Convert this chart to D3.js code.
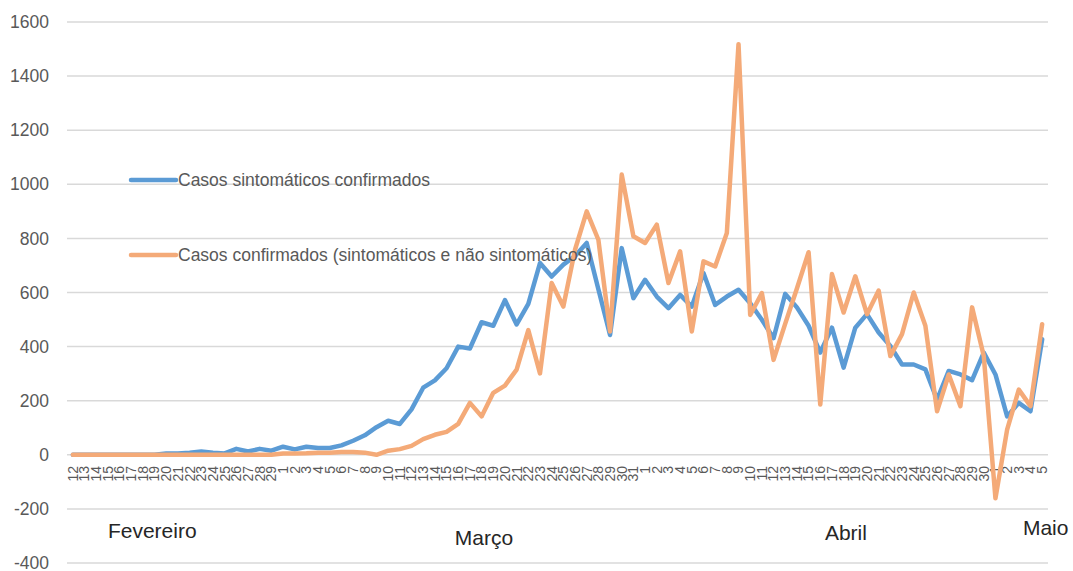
<!DOCTYPE html>
<html lang="pt">
<head>
  <meta charset="UTF-8">
  <title>Casos confirmados</title>
  <script src="https://d3js.org/d3.v7.min.js"></script>
  <style>
    body {
      margin: 0;
      background: white;
      font-family: "Liberation Sans", Arial, sans-serif;
    }
    .grid line {
      stroke: #d9d9d9;
      stroke-width: 1.5;
    }
    .ylab, .day, .legend-text {
      fill: #595959;
    }
    .month {
      fill: #262626;
      font-size: 21px;
    }
  </style>
</head>
<body>
  <svg width="1073" height="571"></svg>
  <script>
    // days shown on the x axis (12 Feb -> 5 May)
    const dayLabels = [
      "12","13","14","15","16","17","18","19","20","21","22","23","24","25","26","27","28","29",
      "1","2","3","4","5","6","7","8","9","10","11","12","13","14","15","16","17","18","19","20",
      "21","22","23","24","25","26","27","28","29","30","31",
      "1","2","3","4","5","6","7","8","9","10","11","12","13","14","15","16","17","18","19","20",
      "21","22","23","24","25","26","27","28","29","30",
      "1","2","3","4","5"
    ];

    const months = ["Fevereiro", "Março", "Abril", "Maio"];

    const seriesNames = [
      "Casos sintomáticos confirmados",
      "Casos confirmados (sintomáticos e não sintomáticos)"
    ];

    const sintomaticos = [
      0, 0, 0, 0, 0, 0, 0, 0, 5, 5, 8, 12, 8, 5, 22, 12, 22, 15,
      30, 20, 30, 25, 25, 35, 52, 72, 102, 126, 114, 168, 248, 275, 320, 400, 393, 490,
      477, 572, 482, 558, 709, 659, 703, 735, 783, 612, 443, 764, 579,
      647, 585, 542, 591, 548, 672, 554, 585, 610, 560, 499, 431, 595, 545, 477, 378,
      470, 322, 470, 520, 452, 402, 334, 334, 316, 204, 310, 297, 276, 378,
      297, 142, 192, 161, 427
    ];

    const confirmados = [
      0, 0, 0, 0, 0, 0, 0, 0, 0, 0, 0, 0, 0, 0, 0, 0, 0, 0,
      5, 5, 6, 8, 8, 10, 10, 8, 0, 15, 21, 33, 58, 74, 85, 114, 192, 142,
      229, 256, 315, 461, 301, 635, 548, 758, 900, 795, 456, 1036, 808,
      783, 851, 635, 752, 456, 715, 696, 820, 1518, 517, 598, 351, 485, 615, 749, 186,
      668, 526, 660, 520, 607, 365, 446, 600, 477, 161, 297, 180, 545, 365,
      -161, 93, 241, 180, 483
    ];

    const yTicks = [-400, -200, 0, 200, 400, 600, 800, 1000, 1200, 1400, 1600];

    const svg = d3.select("svg");
    const plotLeft = 67, plotRight = 1048, plotTop = 22, plotBottom = 563;

    const x = d3.scalePoint()
      .domain(d3.range(dayLabels.length))
      .range([plotLeft, plotRight])
      .padding(0.5);
    const y = d3.scaleLinear().domain([-400, 1600]).range([plotBottom, plotTop]);

    // gridlines
    svg.append("g").attr("class", "grid")
      .selectAll("line")
      .data(yTicks)
      .join("line")
      .attr("x1", plotLeft).attr("x2", plotRight)
      .attr("y1", d => y(d)).attr("y2", d => y(d));

    // y labels
    svg.append("g")
      .selectAll("text")
      .data(yTicks)
      .join("text")
      .attr("class", "ylab")
      .attr("x", 49)
      .attr("y", d => y(d))
      .attr("dy", "0.35em")
      .attr("text-anchor", "end")
      .style("font-size", "17.5px")
      .text(d => d);

    // day labels, rotated like Excel
    svg.append("g")
      .selectAll("text")
      .data(dayLabels)
      .join("text")
      .attr("class", "day")
      .attr("transform", (d, i) => `translate(${x(i)},466) rotate(-90)`)
      .attr("text-anchor", "end")
      .attr("dy", "0.35em")
      .style("font-size", "14px")
      .text(d => d);

    // month captions
    const monthPos = [[6.8, 538], [35.2, 545], [66.2, 540], [83.3, 535]];
    svg.append("g")
      .selectAll("text")
      .data(months)
      .join("text")
      .attr("class", "month")
      .attr("x", (d, i) => plotLeft + (monthPos[i][0] + 0.5) * x.step())
      .attr("y", (d, i) => monthPos[i][1])
      .attr("text-anchor", "middle")
      .text(d => d);

    const line = d3.line()
      .x((d, i) => x(i))
      .y(d => y(d))
      .curve(d3.curveLinear);

    const colors = ["#5b9bd5", "#f4aa78"];

    [sintomaticos, confirmados].forEach((s, k) => {
      svg.append("path")
        .datum(s)
        .attr("fill", "none")
        .attr("stroke", colors[k])
        .attr("stroke-width", 4.5)
        .attr("stroke-linejoin", "round")
        .attr("stroke-linecap", "round")
        .attr("d", line);
    });

    // legend inside the plot
    const legY = [180, 255];
    const leg = svg.append("g");
    seriesNames.forEach((name, k) => {
      leg.append("line")
        .attr("x1", 131).attr("x2", 176)
        .attr("y1", legY[k]).attr("y2", legY[k])
        .attr("stroke", colors[k])
        .attr("stroke-width", 4.5)
        .attr("stroke-linecap", "round");
      leg.append("text")
        .attr("class", "legend-text")
        .attr("x", 178)
        .attr("y", legY[k])
        .attr("dy", "0.35em")
        .style("font-size", "17.5px")
        .text(name);
    });
  </script>
</body>
</html>
